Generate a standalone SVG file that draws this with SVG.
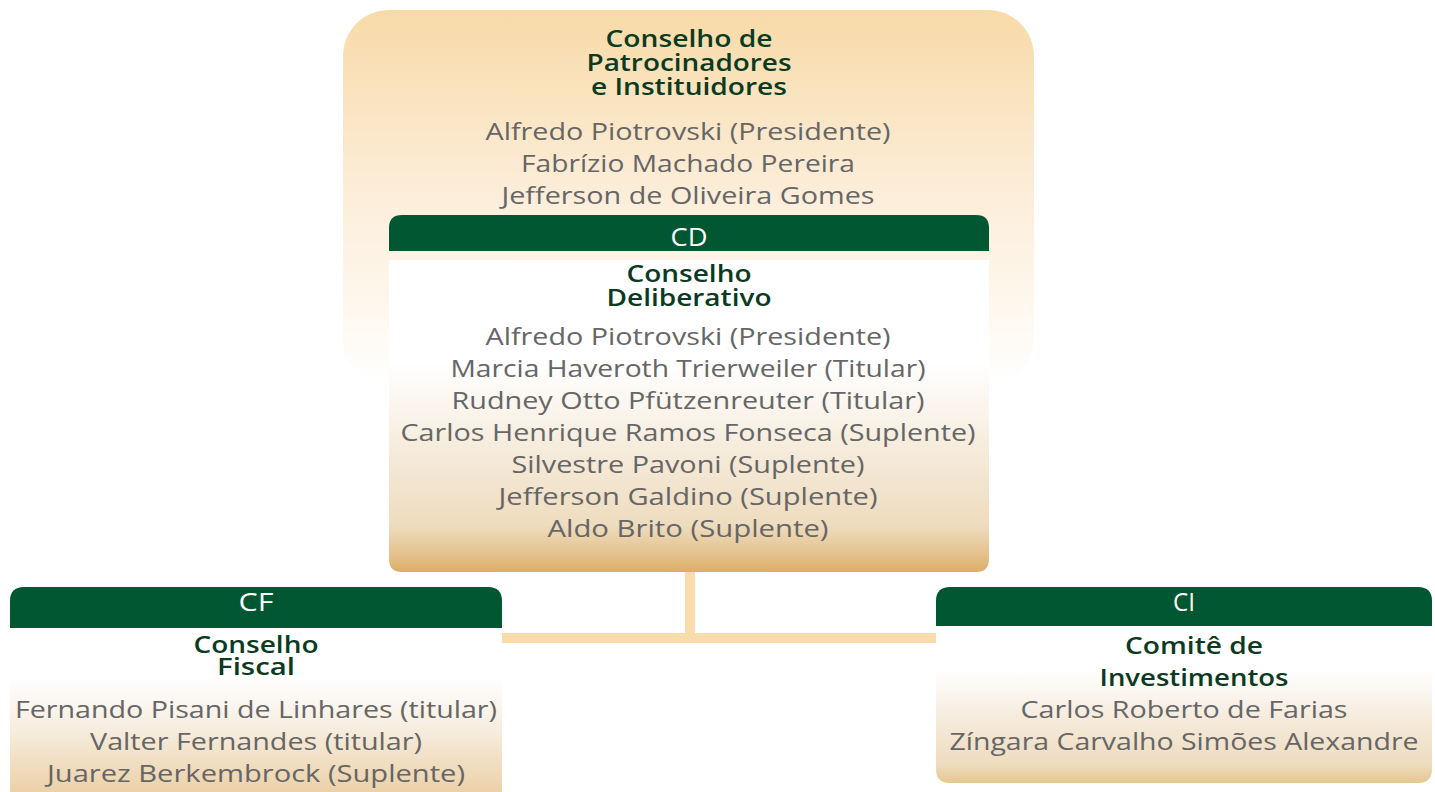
<svg xmlns="http://www.w3.org/2000/svg" width="1435" height="792" viewBox="0 0 1435 792">
<defs>
<linearGradient id="gTop" x1="0" y1="0" x2="0" y2="1">
<stop offset="0" stop-color="#f8daa7"/>
<stop offset="0.45" stop-color="#fcecd6"/>
<stop offset="0.8" stop-color="#fef8ef"/>
<stop offset="1" stop-color="#ffffff"/>
</linearGradient>
<linearGradient id="gCD" x1="0" y1="0" x2="0" y2="1">
<stop offset="0" stop-color="#ffffff"/>
<stop offset="0.33" stop-color="#ffffff"/>
<stop offset="0.6" stop-color="#f6ecdd"/>
<stop offset="0.85" stop-color="#eedcbe"/>
<stop offset="0.94" stop-color="#e5c38f"/>
<stop offset="1" stop-color="#dbad66"/>
</linearGradient>
<linearGradient id="gCF" x1="0" y1="0" x2="0" y2="1">
<stop offset="0" stop-color="#ffffff"/>
<stop offset="0.3" stop-color="#ffffff"/>
<stop offset="0.6" stop-color="#f7eee1"/>
<stop offset="1" stop-color="#ecd1a8"/>
</linearGradient>
<linearGradient id="gCI" x1="0" y1="0" x2="0" y2="1">
<stop offset="0" stop-color="#ffffff"/>
<stop offset="0.28" stop-color="#ffffff"/>
<stop offset="0.6" stop-color="#f5eadb"/>
<stop offset="0.88" stop-color="#eedcbf"/>
<stop offset="1" stop-color="#e6c68f"/>
</linearGradient>
</defs>
<style>
.hdr{fill:#005731}
.hl{font-family:"Open Sans","Liberation Sans",sans-serif;font-size:26px;fill:#ffffff;text-anchor:middle}
.tt{font-family:"Open Sans","Liberation Sans",sans-serif;font-size:23px;font-weight:600;fill:#0b3a22;text-anchor:middle}
.nm{font-family:"Open Sans","Liberation Sans",sans-serif;font-size:24px;fill:#666666;text-anchor:middle}
.cn{fill:#f8dcac}
</style>

<g id="cpi">
<rect x="343" y="10" width="691" height="375" rx="46" ry="46" fill="url(#gTop)"/>
<text class="tt" x="689" y="47" textLength="167" lengthAdjust="spacingAndGlyphs">Conselho de</text>
<text class="tt" x="689" y="71" textLength="205" lengthAdjust="spacingAndGlyphs">Patrocinadores</text>
<text class="tt" x="689" y="95" textLength="196" lengthAdjust="spacingAndGlyphs">e Instituidores</text>
<text class="nm" x="688" y="140" textLength="405" lengthAdjust="spacingAndGlyphs">Alfredo Piotrovski (Presidente)</text>
<text class="nm" x="688" y="172" textLength="334" lengthAdjust="spacingAndGlyphs">Fabrízio Machado Pereira</text>
<text class="nm" x="688" y="204" textLength="373" lengthAdjust="spacingAndGlyphs">Jefferson de Oliveira Gomes</text>
</g>

<g id="connectors">
<rect class="cn" x="685" y="571" width="10" height="64"/>
<rect class="cn" x="502" y="633" width="434" height="10"/>
</g>

<g id="cd">
<path class="hdr" d="M389,251 V228 Q389,215 402,215 H976 Q989,215 989,228 V251 Z"/>
<text class="hl" x="689" y="246" textLength="37" lengthAdjust="spacingAndGlyphs">CD</text>
<path d="M389,260 H989 V559 Q989,572 976,572 H402 Q389,572 389,559 Z" fill="url(#gCD)"/>
<text class="tt" x="689" y="282" textLength="125" lengthAdjust="spacingAndGlyphs">Conselho</text>
<text class="tt" x="689" y="306" textLength="165" lengthAdjust="spacingAndGlyphs">Deliberativo</text>
<text class="nm" x="688" y="345" textLength="405" lengthAdjust="spacingAndGlyphs">Alfredo Piotrovski (Presidente)</text>
<text class="nm" x="688" y="377" textLength="475" lengthAdjust="spacingAndGlyphs">Marcia Haveroth Trierweiler (Titular)</text>
<text class="nm" x="688" y="409" textLength="473" lengthAdjust="spacingAndGlyphs">Rudney Otto Pfützenreuter (Titular)</text>
<text class="nm" x="688" y="441" textLength="575" lengthAdjust="spacingAndGlyphs">Carlos Henrique Ramos Fonseca (Suplente)</text>
<text class="nm" x="688" y="473" textLength="353" lengthAdjust="spacingAndGlyphs">Silvestre Pavoni (Suplente)</text>
<text class="nm" x="688" y="505" textLength="379" lengthAdjust="spacingAndGlyphs">Jefferson Galdino (Suplente)</text>
<text class="nm" x="688" y="537" textLength="281" lengthAdjust="spacingAndGlyphs">Aldo Brito (Suplente)</text>
</g>

<g id="cf">
<path class="hdr" d="M10,628 V601 Q10,587 24,587 H488 Q502,587 502,601 V628 Z"/>
<text class="hl" x="256" y="611" textLength="35" lengthAdjust="spacingAndGlyphs">CF</text>
<rect x="10" y="628" width="492" height="164" fill="url(#gCF)"/>
<text class="tt" x="256" y="653" textLength="125" lengthAdjust="spacingAndGlyphs">Conselho</text>
<text class="tt" x="256" y="675" textLength="78" lengthAdjust="spacingAndGlyphs">Fiscal</text>
<text class="nm" x="256" y="718" textLength="482" lengthAdjust="spacingAndGlyphs">Fernando Pisani de Linhares (titular)</text>
<text class="nm" x="256" y="750" textLength="332" lengthAdjust="spacingAndGlyphs">Valter Fernandes (titular)</text>
<text class="nm" x="256" y="782" textLength="418" lengthAdjust="spacingAndGlyphs">Juarez Berkembrock (Suplente)</text>
</g>

<g id="ci">
<path class="hdr" d="M936,626 V601 Q936,587 950,587 H1418 Q1432,587 1432,601 V626 Z"/>
<text class="hl" x="1184" y="611" textLength="22" lengthAdjust="spacingAndGlyphs">CI</text>
<path d="M936,626 H1432 V769 Q1432,783 1418,783 H950 Q936,783 936,769 Z" fill="url(#gCI)"/>
<text class="tt" x="1194" y="654" textLength="138" lengthAdjust="spacingAndGlyphs">Comitê de</text>
<text class="tt" x="1194" y="686" textLength="189" lengthAdjust="spacingAndGlyphs">Investimentos</text>
<text class="nm" x="1184" y="718" textLength="327" lengthAdjust="spacingAndGlyphs">Carlos Roberto de Farias</text>
<text class="nm" x="1184" y="750" textLength="469" lengthAdjust="spacingAndGlyphs">Zíngara Carvalho Simões Alexandre</text>
</g>
</svg>
